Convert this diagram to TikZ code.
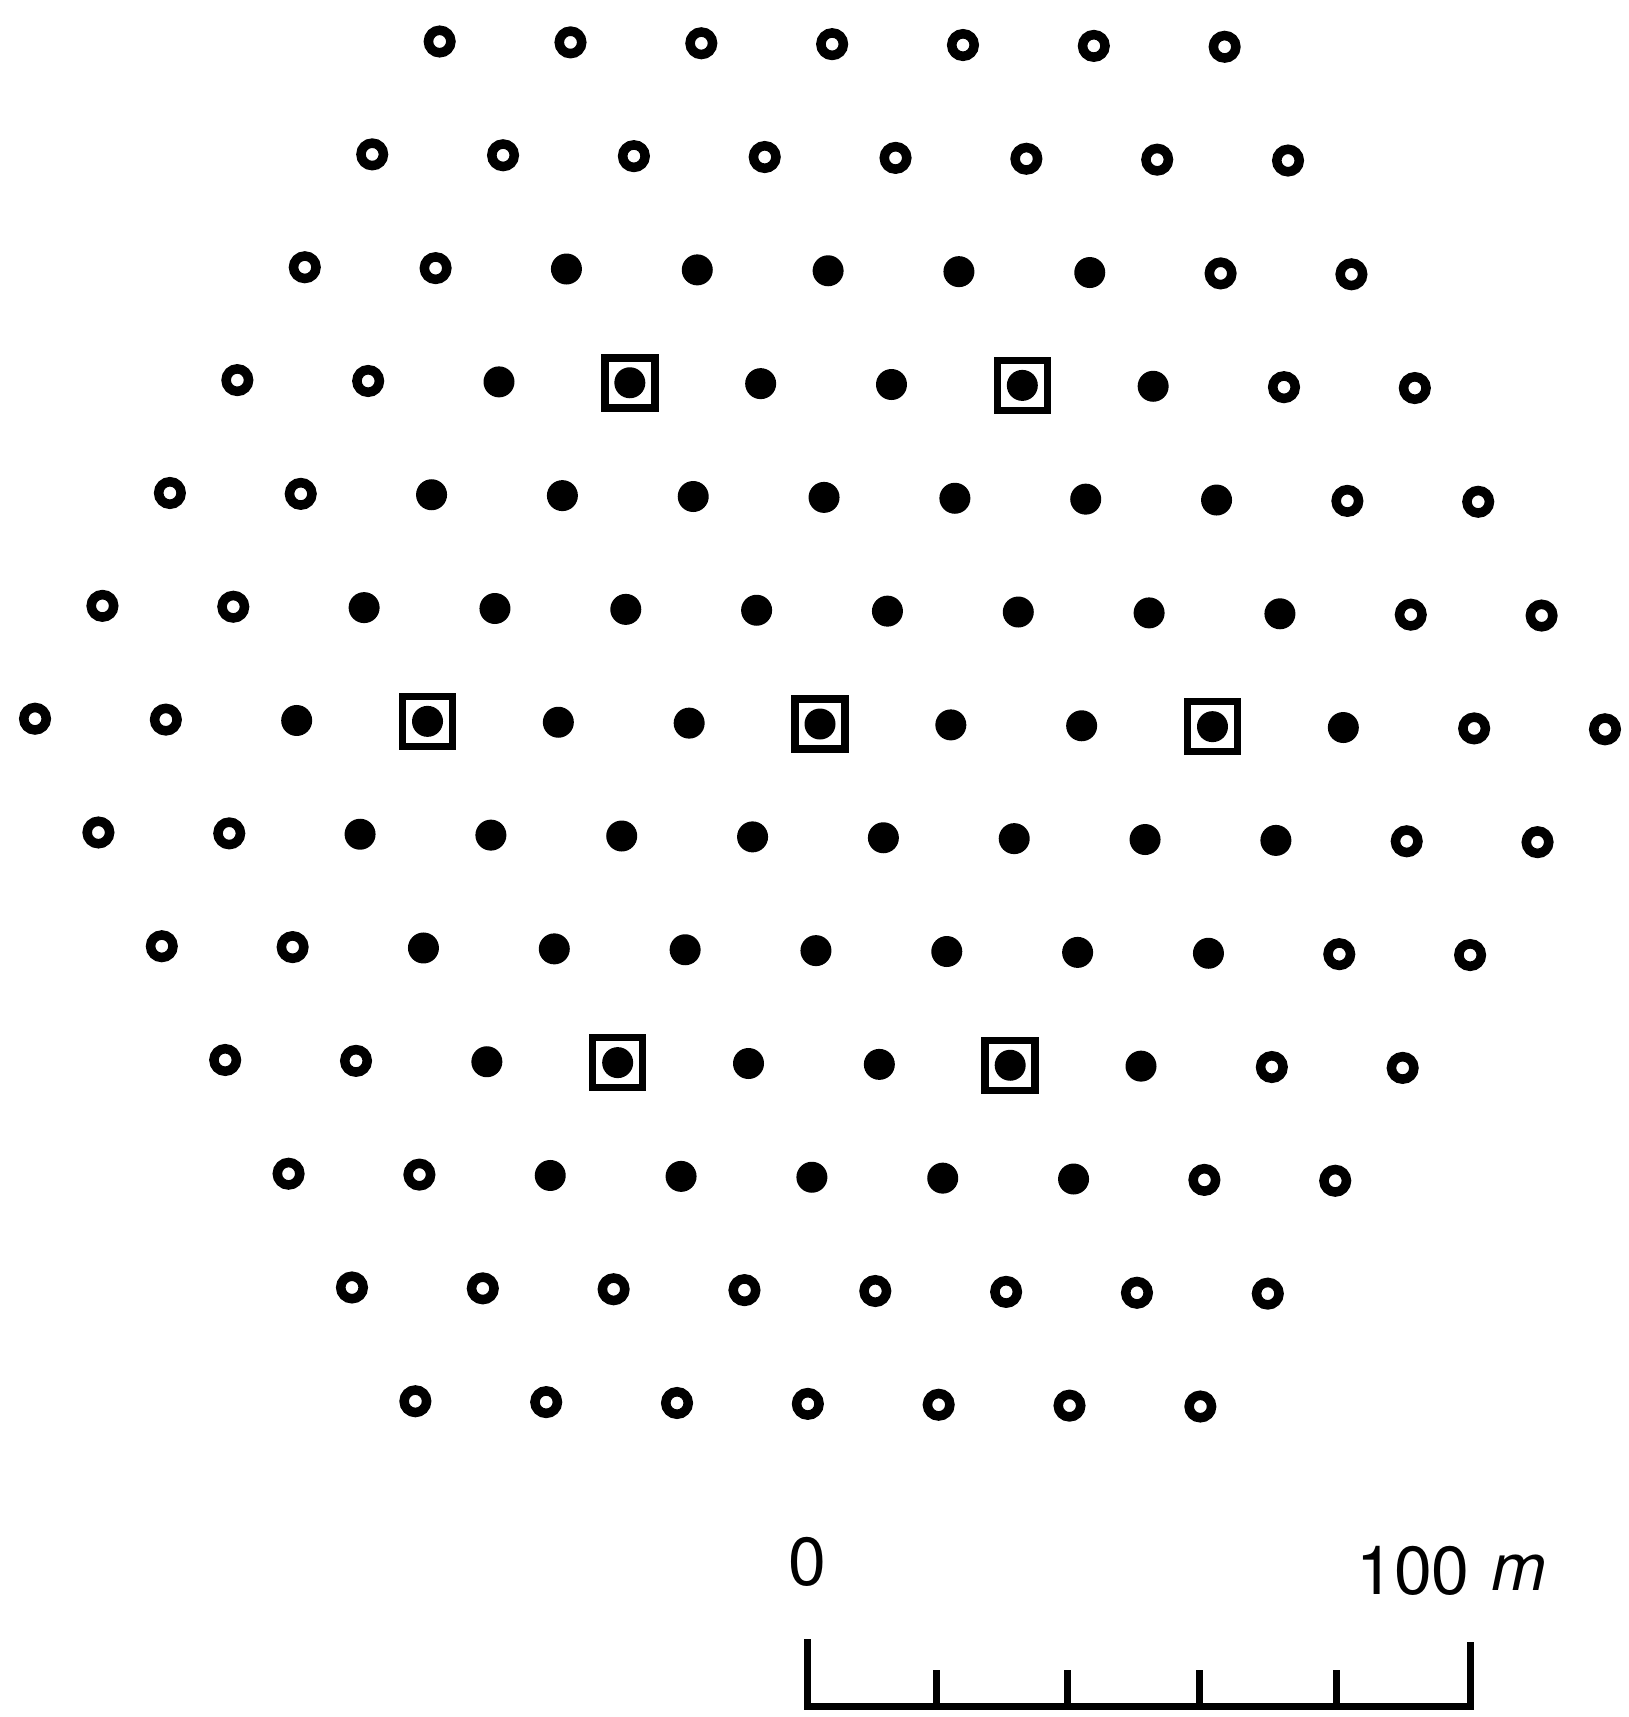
\documentclass[tikz,border=0pt]{standalone}
\usepackage{fontspec}
\setmainfont{TeX Gyre Heros}
\begin{document}
\begin{tikzpicture}[x=1pt,y=-1pt,
  opendot/.style={draw=black, line width=9.5pt, fill=white},
  fulldot/.style={fill=black},
  framebox/.style={draw=black, line width=7.5pt, minimum size=50pt, inner sep=0pt},
  scalebar/.style={line width=7pt, line cap=rect},
  scaletext/.style={font=\fontsize{68}{68}\selectfont, inner sep=0pt}]
\useasboundingbox (0,0) rectangle (1629,1717);
\def\Ox{820}\def\Oy{724}
\def\ax{130.83}\def\ay{0.88}\def\cx{63.39}\def\cy{113.75}
% hexagonal grid of stations
\foreach \r in {-6,...,6}{
  \foreach \q in {-6,...,6}{
    \pgfmathtruncatemacro\d{max(abs(\q),abs(\r),abs(\q+\r))}
    \pgfmathsetmacro\px{\Ox+\q*\ax+\r*\cx}
    \pgfmathsetmacro\py{\Oy+\q*\ay+\r*\cy}
    \ifnum\d<7
      \ifnum\d<5
        \fill[fulldot] (\px,\py) circle[radius=15.5];
      \else
        \draw[opendot] (\px,\py) circle[radius=11.25];
      \fi
    \fi
  }
}
% framed stations
\foreach \q/\r [count=\i] in {0/-3,3/-3,-3/0,0/0,3/0,-3/3,0/3}{
  \pgfmathsetmacro\px{\Ox+\q*\ax+\r*\cx}
  \pgfmathsetmacro\py{\Oy+\q*\ay+\r*\cy}
  \node[framebox] (sq\i) at (\px,\py) {};
}
% scale bar
\coordinate (bl) at (807,1706);
\coordinate (br) at (1470,1706);
\draw[scalebar] (807,1642) -- (bl) -- (br) -- (1470,1645);
\foreach \x in {936,1067,1199,1336}
  \draw[scalebar] (\x,1673) -- (\x,1706);
\node[scaletext, anchor=base] (zero) at (807,1585) {0};
\node[scaletext, anchor=base west] (hundred) at (1356,1594)
  {100\hspace{22pt}\raisebox{4pt}{\fontsize{66}{66}\selectfont\textit{m}}};
\end{tikzpicture}
\end{document}
